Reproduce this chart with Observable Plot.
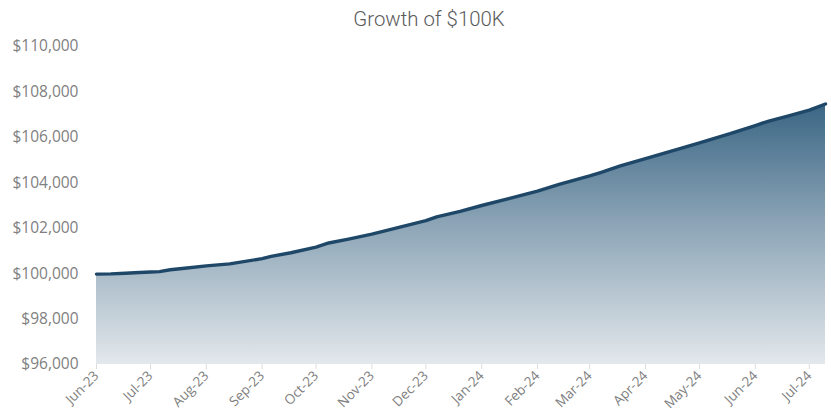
<!DOCTYPE html>
<html>
<head>
<meta charset="utf-8">
<script src="https://cdn.jsdelivr.net/npm/d3@7"></script>
<script src="https://cdn.jsdelivr.net/npm/@observablehq/plot@0.6"></script>
<style>
  html, body { margin: 0; padding: 0; background: #fff; }
  #wrap { width: 831px; position: relative; }
  #title { height: 26px; position: relative; font-family: "Roboto", sans-serif; font-weight: 300; font-size: 21px; color: #5a5a5a; }
  #title span { position: absolute; left: 429px; top: 7px; transform: translateX(-50%) scaleX(0.97); white-space: nowrap; }
</style>
</head>
<body>
<div id="wrap">
  <div id="title"><span>Growth of $100K</span></div>
  <div id="chart"></div>
</div>
<script>
const dates = [
  "2023-06-01","2023-06-09","2023-06-17","2023-06-25","2023-07-01","2023-07-06","2023-07-12","2023-07-20",
  "2023-08-01","2023-08-14","2023-09-01","2023-09-06","2023-09-17","2023-10-01","2023-10-08","2023-10-19",
  "2023-11-01","2023-11-16","2023-12-01","2023-12-07","2023-12-20","2024-01-01","2024-01-16","2024-02-01",
  "2024-02-13","2024-03-01","2024-03-07","2024-03-18","2024-04-01","2024-04-22","2024-05-01","2024-05-18",
  "2024-06-01","2024-06-09","2024-06-20","2024-07-01","2024-07-10"
];
const values = [
  99980, 99990, 100020, 100050, 100070, 100090, 100170, 100240,
  100340, 100430, 100660, 100760, 100920, 101170, 101350, 101520,
  101740, 102040, 102330, 102500, 102740, 103000, 103300, 103630,
  103930, 104300, 104450, 104740, 105060, 105550, 105760, 106160,
  106520, 106730, 106960, 107200, 107470
];
const yTicks = [96000, 98000, 100000, 102000, 104000, 106000, 108000, 110000];
const xTickDates = ["2023-06-01","2023-07-01","2023-08-01","2023-09-01","2023-10-01","2023-11-01","2023-12-01",
  "2024-01-01","2024-02-01","2024-03-01","2024-04-01","2024-05-01","2024-06-01","2024-07-01"];

const data = dates.map((d, i) => ({date: new Date(d + "T00:00:00Z"), value: values[i]}));
const xt = xTickDates.map(d => new Date(d + "T00:00:00Z"));

const gradientDefs = () => {
  const ns = "http://www.w3.org/2000/svg";
  const defs = document.createElementNS(ns, "defs");
  const lg = document.createElementNS(ns, "linearGradient");
  lg.setAttribute("id", "areaGrad");
  lg.setAttribute("x1", "0"); lg.setAttribute("y1", "0");
  lg.setAttribute("x2", "0"); lg.setAttribute("y2", "1");
  [["0%", "#3a6684"], ["45%", "#8aa3b5"], ["100%", "#e3e8ec"]].forEach(([o, c]) => {
    const s = document.createElementNS(ns, "stop");
    s.setAttribute("offset", o); s.setAttribute("stop-color", c);
    lg.appendChild(s);
  });
  defs.appendChild(lg);
  return defs;
};

const chart = Plot.plot({
  width: 831,
  height: 389,
  marginTop: 20,
  marginBottom: 51,
  marginLeft: 96,
  marginRight: 6,
  style: {fontFamily: "'Open Sans', sans-serif", fontSize: "14px", color: "#808080", background: "#fff", overflow: "visible"},
  x: {
    type: "utc",
    domain: [data[0].date, data[data.length - 1].date],
    label: null
  },
  y: {
    domain: [96000, 110000],
    label: null
  },
  marks: [
    gradientDefs,
    Plot.areaY(data, {x: "date", y1: 96000, y2: "value", fill: "url(#areaGrad)"}),
    Plot.lineY(data, {x: "date", y: "value", stroke: "#1f4868", strokeWidth: 3.4, strokeLinejoin: "round", strokeLinecap: "round"}),
    Plot.axisX({ticks: xt, tickFormat: d3.utcFormat("%b-%y"), tickRotate: -45, tickSize: 5, tickPadding: 4, stroke: "#ddd", fill: "#808080", fontSize: 13.5, label: null}),
    Plot.axisY({ticks: yTicks, tickFormat: d => "$" + d3.format(",")(d), tickSize: 0, tickPadding: 18, fill: "#808080", fontSize: 15.5, label: null})
  ]
});
document.getElementById("chart").appendChild(chart);
</script>
</body>
</html>
